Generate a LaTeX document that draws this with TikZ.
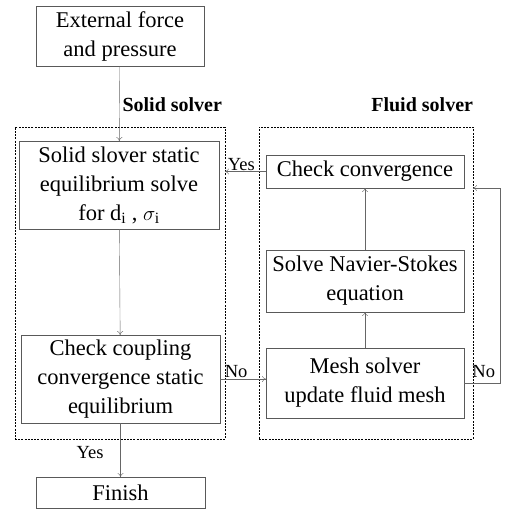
\documentclass[tikz,border=0pt]{standalone}
\usepackage{fontspec}
\setmainfont{Liberation Serif}
\usepackage{tikz}
\usetikzlibrary{positioning, arrows.meta}

\begin{document}
\begin{tikzpicture}
    [x = 1pt, y = -1pt, outer sep = 0pt,
    block/.style={rectangle, draw=black!65, thin, align=center,
      inner sep = 0pt, font=\fontsize{22.5}{29}\selectfont},
    dashbox/.style={rectangle, draw=black, dashed, dash pattern=on 2pt off 1.2pt,
      thin, inner sep = 0pt},
    link/.style={draw=black!60, thin, -{To[length=4pt, width=6pt]}},
    tag/.style={font=\fontsize{18.5}{20}\selectfont, inner sep = 1pt},
    head/.style={font=\fontsize{20}{22}\selectfont\bfseries, inner sep = 0pt}]

    \useasboundingbox (0,0) rectangle (505,509);

    % solid side
    \node (ext) [block, minimum width = 168, minimum height = 60] at (120,36)
    {External force\\and pressure};
    \node (solidbox) [dashbox, minimum width = 210, minimum height = 312] at (120,283) {};
    \node (solidhead) [head, anchor=east] at (222,105) {Solid solver};
    \node (s1) [block, minimum width = 200, minimum height = 88] at (119,185)
    {Solid slover static\\equilibrium solve\\for d\textsubscript{i} , $\sigma_{\mathrm{i}}$};
    \node (cc) [block, minimum width = 199, minimum height = 88] at (120.5,379)
    {Check coupling\\convergence static\\equilibrium};
    \node (fin) [block, minimum width = 169, minimum height = 31] at (120.5,492.5) {Finish};

    % fluid side
    \node (fluidbox) [dashbox, minimum width = 214, minimum height = 312] at (366,283) {};
    \node (fluidhead) [head, anchor=east] at (473,105) {Fluid solver};
    \node (conv) [block, minimum width = 198, minimum height = 33] at (365,171.5)
    {Check convergence};
    \node (ns) [block, minimum width = 198, minimum height = 62] at (365,281)
    {Solve Navier-Stokes\\equation};
    \node (mesh) [block, minimum width = 198, minimum height = 70] at (365,383)
    {Mesh solver\\update fluid mesh};

    \draw [link] (ext) -- (s1);
    \draw [link] (s1) -- (cc);
    \draw [link] (cc) -- (fin) node [tag, left=16pt, pos=0.55] {Yes};
    \draw [link] (cc.east) -- (cc.east -| mesh.west)
    node [tag, above, pos=0.35] {No};
    \draw [link] (mesh) -- (ns);
    \draw [link] (ns) -- (conv);
    \draw [link] (conv.west) -- (conv.west -| solidbox.east)
    node [tag, above, pos=0.6] {Yes};
    \coordinate (turn) at ([xshift=36]mesh.east);
    \draw [link] (mesh.east) -- (turn) node [tag, above=4pt, pos=0.55] {No}
    |- (fluidbox.east |- conv.south);
  \end{tikzpicture}
\end{document}
